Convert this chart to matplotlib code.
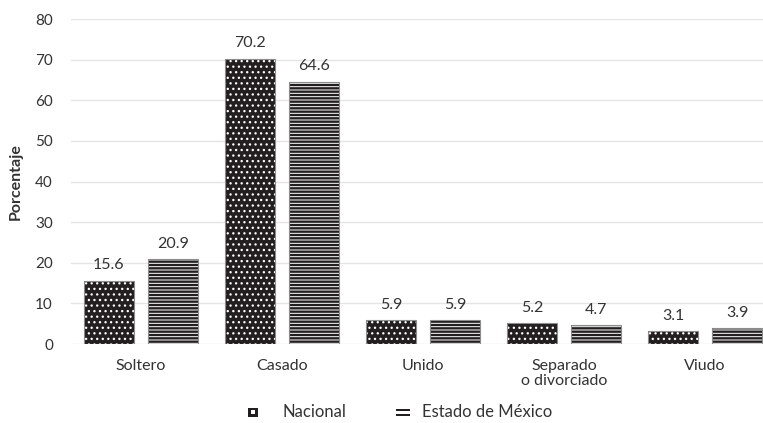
import matplotlib
matplotlib.use("Agg")
import matplotlib.pyplot as plt
from matplotlib.lines import Line2D
from matplotlib.patches import Rectangle
import numpy as np

categories = ["Soltero", "Casado", "Unido", "Separado\no divorciado", "Viudo"]
nacional = [15.6, 70.2, 5.9, 5.2, 3.1]
estado_mexico = [20.9, 64.6, 5.9, 4.7, 3.9]
series_names = ["Nacional", "Estado de México"]
y_ticks = [0, 10, 20, 30, 40, 50, 60, 70, 80]

DARK = "#231f20"
TEXT = "#333333"
GRID = "#e5e5e5"
EDGE = "#8c8c8c"

plt.rcParams["font.family"] = ["Lato", "DejaVu Sans"]

fig = plt.figure(figsize=(7.63, 4.23), dpi=100)
W, H = 763, 423
AX_L, AX_R, AX_T, AX_B = 71, 763, 19, 344
ax = fig.add_axes([AX_L / W, 1 - AX_B / H, (AX_R - AX_L) / W, (AX_B - AX_T) / H])

x = np.arange(len(categories))
width = 0.355
offset = 0.227

# Nacional: dark bars with white dots
with plt.rc_context({"hatch.linewidth": 0.9}):
    ax.bar(x - offset, nacional, width, color=DARK, edgecolor="white",
           hatch="...", linewidth=0, zorder=3)
# Estado de México: white bars with horizontal stripes
with plt.rc_context({"hatch.linewidth": 1.7}):
    ax.bar(x + offset, estado_mexico, width, color="white", edgecolor=DARK,
           hatch="-----", linewidth=0, zorder=3)
for xs, vals in ((x - offset, nacional), (x + offset, estado_mexico)):
    ax.bar(xs, vals, width, fill=False, edgecolor=EDGE, linewidth=0.8, zorder=4)

for xs, vals in ((x - offset, nacional), (x + offset, estado_mexico)):
    for xi, v in zip(xs, vals):
        ax.annotate(f"{v:.1f}", (xi, v), xytext=(0, 6), textcoords="offset points",
                    ha="center", va="bottom", fontsize=11.5, color=TEXT)

ax.set_ylim(0, 80)
ax.set_xlim(-0.496, 4.41)
ax.set_yticks(y_ticks)
ax.set_xticks(x)
ax.set_xticklabels(categories, fontsize=11.5, color=TEXT, linespacing=1.1)
ax.tick_params(axis="y", length=0, pad=13, labelsize=11, labelcolor=TEXT)
ax.tick_params(axis="x", length=0, pad=11)
ax.grid(axis="y", color=GRID, linewidth=1, zorder=0)
ax.set_axisbelow(True)
for s in ax.spines.values():
    s.set_visible(False)

ax.set_ylabel("Porcentaje", fontsize=11.5, fontweight="bold", color=TEXT)
ax.yaxis.set_label_coords((23 - AX_L) / (AX_R - AX_L), 0.5)

# Legend drawn in figure pixel coordinates
def fx(px):
    return px / W

def fy(py):
    return 1 - py / H

leg_y = 412
fig.add_artist(Rectangle((fx(248), fy(leg_y + 4.5)), 10 / W, 9 / H,
                         transform=fig.transFigure, color=DARK, lw=0))
fig.add_artist(Line2D([fx(253)], [fy(leg_y)], marker="s", ms=2.4, mew=0,
                      color="white", ls="", transform=fig.transFigure))
fig.text(fx(283), fy(leg_y), series_names[0], fontsize=12, color=TEXT,
         ha="left", va="center")
for dy in (-2.5, 2.5):
    fig.add_artist(Rectangle((fx(396), fy(leg_y + dy + 1)), 14 / W, 2 / H,
                             transform=fig.transFigure, color=DARK, lw=0))
fig.text(fx(422), fy(leg_y), series_names[1], fontsize=12, color=TEXT,
         ha="left", va="center")

fig.savefig("out.png", dpi=100)
